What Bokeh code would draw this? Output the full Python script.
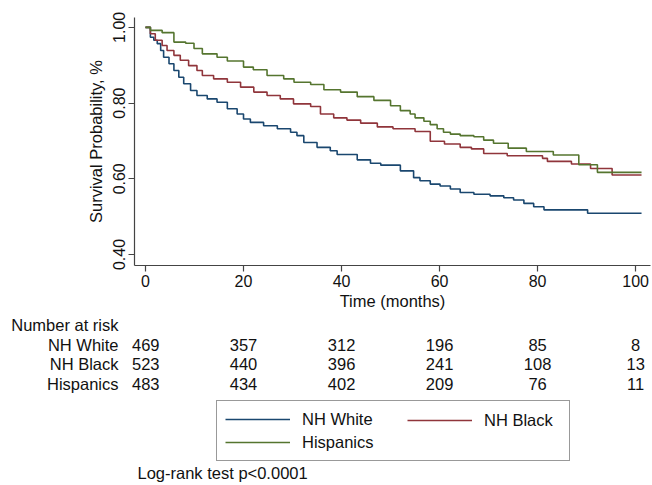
from bokeh.plotting import figure
from bokeh.layouts import column
from bokeh.models import (Range1d, FixedTicker, NumeralTickFormatter, Legend, LegendItem,
                          ColumnDataSource, LinearAxis)
from bokeh.core.properties import value
from bokeh.embed import file_html
from bokeh.resources import INLINE

# ---------------- data ----------------
groups = ["NH White", "NH Black", "Hispanics"]
colors = ["#1a476f", "#90353b", "#55752f"]

white_t = [0, 1, 1.7, 2.4, 3.1, 3.7, 4.8, 5.8, 6.8, 7.8, 9.2, 10.5, 12.6, 14.6, 16.7, 18.7,
           20, 21.4, 24.1, 26.9, 29.6, 30.9, 32.3, 35, 37.7, 39.1, 43.2, 45.9, 48, 52, 54.7,
           56, 58.1, 60.1, 62.2, 64.2, 67, 70.3, 73.1, 75.1, 77.2, 79.2, 81.3, 90.2, 101.2]
white_s = [1.0, 0.974, 0.966, 0.957, 0.939, 0.921, 0.904, 0.886, 0.868, 0.851, 0.833, 0.820,
           0.811, 0.802, 0.785, 0.771, 0.758, 0.749, 0.740, 0.732, 0.723, 0.714, 0.696, 0.683,
           0.674, 0.664, 0.650, 0.641, 0.636, 0.621, 0.603, 0.595, 0.586, 0.581, 0.573, 0.564,
           0.559, 0.555, 0.550, 0.544, 0.535, 0.526, 0.518, 0.509, 0.509]

black_t = [0, 1, 2, 3.4, 4.4, 5.8, 7.1, 8.8, 10.5, 11.6, 13.9, 16.7, 19.4, 22.1, 24.8, 27.5,
           30.2, 33.7, 35.7, 38.4, 41.1, 43.9, 47.3, 50.5, 55, 58.1, 61, 64.2, 66.5, 69, 73.8,
           81, 82, 86.9, 90.8, 95.2, 101.2]
black_s = [1.0, 0.983, 0.966, 0.952, 0.939, 0.926, 0.913, 0.899, 0.886, 0.873, 0.864, 0.855,
           0.842, 0.829, 0.820, 0.811, 0.798, 0.791, 0.771, 0.761, 0.755, 0.747, 0.737, 0.732,
           0.725, 0.699, 0.692, 0.683, 0.679, 0.667, 0.661, 0.654, 0.646, 0.639, 0.627, 0.610,
           0.610]

hisp_t = [0, 1, 3.4, 5.8, 8.2, 9.9, 11.6, 14.6, 16.7, 20, 22, 24.8, 28.2, 30.3, 33.7, 36.4,
          39.8, 43.2, 46.6, 50, 52, 54, 55, 56.8, 58.1, 59.5, 60.8, 62.2, 64.2, 67, 69, 71,
          74, 77.7, 83.2, 88.4, 92.2, 101.2]
hisp_s = [1.0, 0.992, 0.986, 0.961, 0.958, 0.944, 0.930, 0.921, 0.911, 0.895, 0.888, 0.873,
          0.864, 0.855, 0.849, 0.835, 0.829, 0.817, 0.807, 0.793, 0.780, 0.771, 0.761, 0.752,
          0.743, 0.732, 0.723, 0.718, 0.714, 0.711, 0.702, 0.694, 0.681, 0.672, 0.663, 0.637,
          0.617, 0.617]

risk_times = [0, 20, 40, 60, 80, 100]
risk_white = [469, 357, 312, 196, 85, 8]
risk_black = [523, 440, 396, 241, 108, 13]
risk_hisp = [483, 434, 402, 209, 76, 11]

x_ticks = [0, 20, 40, 60, 80, 100]
y_ticks = [0.40, 0.60, 0.80, 1.00]

# ---------------- layout ----------------
W = 652
H1 = 315                 # main plot canvas height
H2 = 485 - H1            # risk table canvas height
ML, MT, FRAME_R, FRAME_B = 134, 17, 650, 265
X0 = -2.24
KX = 4.9017              # px per month
X1 = X0 + (FRAME_R - ML) / KX
Y0, Y1 = 0.371, 1.026
FONT = "Liberation Sans"
FS = "16.5px"
TXT = "#111111"

p = figure(width=W, height=H1, x_range=Range1d(X0, X1), y_range=Range1d(Y0, Y1),
           output_backend="svg", toolbar_location=None,
           min_border_left=ML, min_border_right=W - FRAME_R,
           min_border_top=MT, min_border_bottom=H1 - FRAME_B)
p.xgrid.visible = False
p.ygrid.visible = False
p.outline_line_color = None

for ax in (p.xaxis[0], p.yaxis[0]):
    ax.axis_line_color = "#444444"
    ax.axis_line_width = 1.2
    ax.major_tick_line_color = "#444444"
    ax.major_tick_line_width = 1.2
    ax.major_tick_out = 6
    ax.major_tick_in = 0
    ax.minor_tick_line_color = None
    ax.major_label_text_font = FONT
    ax.major_label_text_font_size = "16px"
    ax.major_label_text_color = TXT
    ax.axis_label_text_font = FONT
    ax.axis_label_text_font_size = FS
    ax.axis_label_text_font_style = "normal"
    ax.axis_label_text_color = TXT

p.xaxis.ticker = FixedTicker(ticks=x_ticks)
p.xaxis.axis_label = "Time (months)"
p.xaxis.major_label_standoff = 3
p.xaxis.axis_label_standoff = 2

p.yaxis.ticker = FixedTicker(ticks=y_ticks)
p.yaxis.formatter = NumeralTickFormatter(format="0.00")
p.yaxis.major_label_orientation = "vertical"
p.yaxis.axis_label = "Survival Probability, %"
p.yaxis.major_label_standoff = 3
p.yaxis.axis_label_standoff = 6

series = [(white_t, white_s), (black_t, black_s), (hisp_t, hisp_s)]
for (t, s), c in zip(series, colors):
    p.step(x=t, y=s, mode="after", line_color=c, line_width=1.6)

# ---------------- risk table / legend / note (second canvas) ----------------
q = figure(width=W, height=H2, x_range=p.x_range, y_range=Range1d(H2, 0),
           output_backend="svg", toolbar_location=None, x_axis_type=None, y_axis_type=None,
           min_border_left=ML, min_border_right=W - FRAME_R, min_border_top=0,
           min_border_bottom=0)
q.xgrid.visible = False
q.ygrid.visible = False
q.outline_line_color = None


def tx(px):
    return X0 + (px - ML) / KX


def ty(py):
    return py - H1


head_y = ty(324)
row_y = [ty(344), ty(363), ty(383)]
risk_rows = [risk_white, risk_black, risk_hisp]


def text_axis(ticks, labels, standoff):
    ax = LinearAxis(ticker=FixedTicker(ticks=ticks),
                    major_label_overrides={t: l for t, l in zip(ticks, labels)},
                    axis_line_color=None, major_tick_line_color=None,
                    minor_tick_line_color=None, major_tick_out=0, major_tick_in=0,
                    minor_tick_out=0, minor_tick_in=0,
                    major_label_standoff=standoff, major_label_text_font=FONT,
                    major_label_text_font_size=FS, major_label_text_color=TXT)
    return ax


# counts at time 0 (inner axis, drawn over the first table column)
q.add_layout(text_axis(row_y, [str(r[0]) for r in risk_rows], -25), "left")
# row titles
q.add_layout(text_axis([head_y] + row_y, ["Number at risk"] + groups, 10), "left")

txt_kw = dict(text_font=value(FONT), text_font_size=value(FS), text_color=TXT,
              text_baseline="middle")

nx, ny, nt = [], [], []
for counts, yy in zip(risk_rows, row_y):
    for t, n in zip(risk_times[1:], counts[1:]):
        nx.append(t)
        ny.append(yy)
        nt.append(str(n))
q.text(x="x", y="y", text="t", source=ColumnDataSource(dict(x=nx, y=ny, t=nt)),
       text_align="center", **txt_kw)

q.text(x=[tx(137)], y=[ty(472)], text=["Log-rank test p<0.0001"], text_align="left",
       **txt_kw)

# legend keys (one undrawn point each; they only carry the line styles)
nan = float("nan")
keys = [q.line(x=[nan], y=[nan], line_color=c, line_width=1.4) for c in colors]

leg_kw = dict(orientation="vertical", spacing=3, padding=8, margin=0,
              glyph_width=65, glyph_height=20, label_height=20, label_standoff=12,
              label_text_font=FONT, label_text_font_size=FS, label_text_color=TXT)
leg1 = Legend(items=[LegendItem(label=groups[0], renderers=[keys[0]]),
                     LegendItem(label=groups[2], renderers=[keys[2]])],
              location=(216 - ML, 485 - 461), label_width=259,
              border_line_color="#333333", border_line_width=1.2,
              background_fill_color="white", background_fill_alpha=1.0, **leg_kw)
leg2 = Legend(items=[LegendItem(label=groups[1], renderers=[keys[1]])],
              location=(399 - ML, 485 - 438),
              border_line_alpha=0, background_fill_alpha=0, **leg_kw)
q.add_layout(leg1, "center")
q.add_layout(leg2, "center")

layout = column(p, q, spacing=0)
open("out.html", "w").write(file_html(layout, INLINE))
